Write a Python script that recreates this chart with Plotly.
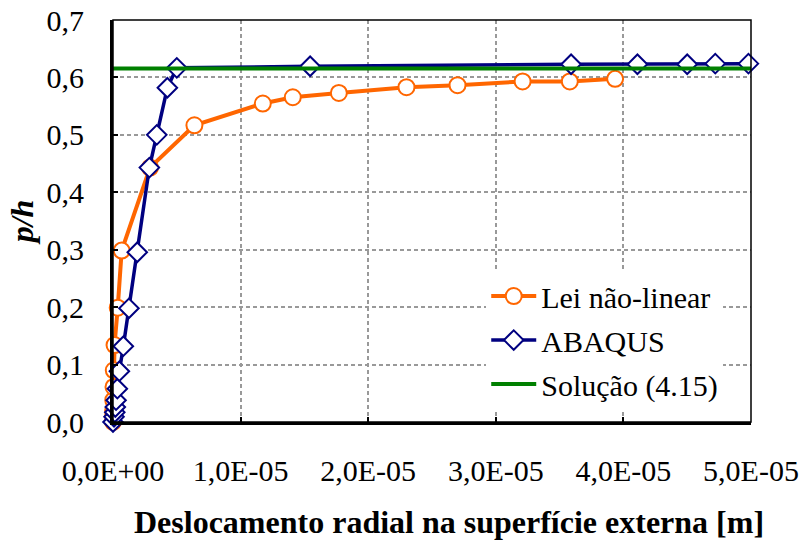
import plotly.graph_objects as go

# Radial displacement at the outer surface (m) vs p/h
lei_x = [0.0, 0.0005e-5, 0.001e-5, 0.002e-5, 0.004e-5, 0.006e-5, 0.012e-5, 0.037e-5, 0.068e-5,
         0.29e-5, 0.638e-5, 1.174e-5, 1.409e-5, 1.77e-5, 2.30e-5, 2.70e-5, 3.21e-5, 3.58e-5, 3.935e-5]
lei_y = [0.0, 0.01, 0.02, 0.038, 0.061, 0.09, 0.134, 0.199, 0.2985,
         0.443, 0.5166, 0.5545, 0.5655, 0.573, 0.583, 0.5865, 0.593, 0.593, 0.5975]

abaqus_x = [0.0, 0.008e-5, 0.014e-5, 0.018e-5, 0.024e-5, 0.034e-5, 0.05e-5, 0.081e-5, 0.125e-5, 0.19e-5,
            0.285e-5, 0.343e-5, 0.426e-5, 0.50e-5, 1.545e-5, 3.59e-5, 4.11e-5, 4.50e-5, 4.72e-5, 4.98e-5]
abaqus_y = [0.0, 0.009, 0.017, 0.026, 0.038, 0.058, 0.0885, 0.132, 0.198, 0.2956,
            0.443, 0.500, 0.582, 0.6167, 0.6195, 0.623, 0.623, 0.623, 0.624, 0.624]

sol_x = [0.0, 5.0e-5]
sol_y = [0.6155, 0.6155]

x_ticks = [0, 1e-5, 2e-5, 3e-5, 4e-5, 5e-5]
x_labels = ["0,0E+00", "1,0E-05", "2,0E-05", "3,0E-05", "4,0E-05", "5,0E-05"]
y_ticks = [0, 0.1, 0.2, 0.3, 0.4, 0.5, 0.6, 0.7]
y_labels = ["0,0", "0,1", "0,2", "0,3", "0,4", "0,5", "0,6", "0,7"]

FONT = "Liberation Serif, Times New Roman, serif"

fig = go.Figure()
fig.add_trace(go.Scatter(
    x=lei_x, y=lei_y, mode="lines+markers", name="Lei não-linear", legendgroup="a",
    line=dict(color="#FF6600", width=4),
    marker=dict(symbol="circle", size=16, color="white", line=dict(color="#FF6600", width=2)),
    cliponaxis=False,
))
fig.add_trace(go.Scatter(
    x=abaqus_x, y=abaqus_y, mode="lines+markers", name="ABAQUS", legendgroup="b",
    line=dict(color="#000080", width=3.5),
    marker=dict(symbol="diamond", size=15, color="white", line=dict(color="#000080", width=2)),
    cliponaxis=False,
))
fig.add_trace(go.Scatter(
    x=sol_x, y=sol_y, mode="lines", name="Solução (4.15)", legendgroup="c",
    line=dict(color="#008000", width=4),
))

# thin frame on top/right
fig.add_shape(type="rect", xref="paper", yref="paper", x0=0, y0=0, x1=1, y1=1,
              line=dict(color="black", width=1.5), layer="above")

# x-axis title, set slightly right of the plot centre
fig.add_annotation(text="<b>Deslocamento radial na superfície externa [m]</b>",
                   xref="paper", yref="paper", x=0.527, y=-0.249,
                   xanchor="center", yanchor="middle", showarrow=False,
                   font=dict(family=FONT, size=32, color="black"))

fig.update_layout(
    width=801, height=541,
    margin=dict(l=113, r=50, t=20, b=119),
    paper_bgcolor="white", plot_bgcolor="white",
    font=dict(family=FONT, size=30, color="black"),
    showlegend=True,
    legend=dict(x=0.585, y=0.378, xanchor="left", yanchor="top",
                bgcolor="white", borderwidth=0,
                font=dict(family=FONT, size=30), tracegroupgap=2, itemwidth=45),
    xaxis=dict(range=[0, 5e-5], tickvals=x_ticks, ticktext=x_labels, automargin=False,
               showgrid=True, gridcolor="#999999", gridwidth=1.5, griddash="4px,3px",
               showline=True, linecolor="black", linewidth=3,
               ticks="inside", ticklen=5, tickwidth=1.5, tickcolor="black",
               tickfont=dict(family=FONT, size=30), zeroline=False, ticklabelstandoff=20),
    yaxis=dict(range=[0, 0.7], tickvals=y_ticks, ticktext=y_labels, automargin=False,
               showgrid=True, gridcolor="#999999", gridwidth=1.5, griddash="4px,3px",
               showline=True, linecolor="black", linewidth=3,
               ticks="inside", ticklen=5, tickwidth=1.5, tickcolor="black",
               tickfont=dict(family=FONT, size=30), zeroline=False, ticklabelstandoff=20,
               title=dict(text="<b><i>p/h</i></b>", font=dict(family=FONT, size=32), standoff=4)),
)

fig.write_html("out.html")
